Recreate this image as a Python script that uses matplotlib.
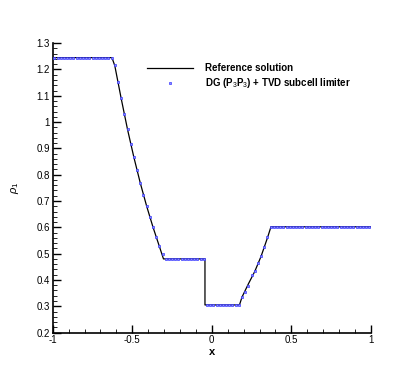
import matplotlib
matplotlib.use('Agg')
import matplotlib.pyplot as plt
from matplotlib.ticker import MultipleLocator, FormatStrFormatter
import numpy as np

plt.rcParams['font.family'] = ['Liberation Sans', 'DejaVu Sans']
plt.rcParams['mathtext.fontset'] = 'custom'
plt.rcParams['mathtext.rm'] = 'Liberation Sans'
plt.rcParams['mathtext.it'] = 'Liberation Sans:italic'
plt.rcParams['mathtext.bf'] = 'Liberation Sans:bold'

# reference solution (exact Riemann solution)
x_ref = [-1.0, -0.628, -0.61, -0.57, -0.53, -0.49, -0.45, -0.41, -0.37, -0.33, -0.304,
         -0.043, -0.043, 0.174, 0.19, 0.23, 0.27, 0.31, 0.35, 0.372, 1.0]
rho_ref = [1.245, 1.245, 1.214, 1.090, 0.972, 0.866, 0.769, 0.681, 0.601, 0.528, 0.480,
           0.480, 0.305, 0.305, 0.335, 0.385, 0.432, 0.490, 0.560, 0.602, 0.602]

# DG (P3P3) + TVD subcell limiter, cell averages on 100 cells
x_dg = np.arange(-0.99, 1.0, 0.02)
rho_dg = ([1.245] * 19
          + [1.216, 1.151, 1.090, 1.030, 0.972, 0.918, 0.866, 0.818,
             0.769, 0.723, 0.681, 0.640, 0.601, 0.563, 0.528, 0.499]
          + [0.479] * 13
          + [0.306] * 11
          + [0.336, 0.353, 0.378, 0.419, 0.434, 0.463, 0.492, 0.526, 0.562, 0.600]
          + [0.602] * 31)

fig = plt.figure(figsize=(4.19, 3.72), dpi=100)
ax = fig.add_axes([0.126, 0.106, 0.759, 0.778])

ax.plot(x_ref, rho_ref, color='black', lw=0.9, label='Reference solution', zorder=2)
ax.plot(x_dg, rho_dg, ls='none', marker='s', ms=2.0, mfc='#8c8cff', mec='#3a3aff', mew=0.5,
        label=r'DG (P$_3$P$_3$) + TVD subcell limiter', zorder=3)

ax.set_xlim(-1, 1)
ax.set_ylim(0.2, 1.3)
ax.xaxis.set_major_locator(MultipleLocator(0.5))
ax.xaxis.set_minor_locator(MultipleLocator(0.1))
ax.yaxis.set_major_locator(MultipleLocator(0.1))
ax.yaxis.set_minor_locator(MultipleLocator(0.02))
ax.xaxis.set_major_formatter(FormatStrFormatter('%g'))
ax.yaxis.set_major_formatter(FormatStrFormatter('%g'))

ax.spines['right'].set_color('none')
ax.spines['top'].set_color('none')
ax.spines['left'].set_linewidth(1.2)
ax.spines['bottom'].set_linewidth(1.2)
ax.tick_params(which='both', direction='in', labelsize=7, pad=2)
ax.tick_params(which='major', length=6, width=1.0)
ax.tick_params(which='minor', length=3, width=0.6)

ax.set_xlabel('x', fontsize=8, fontweight='bold', labelpad=1)
ax.set_ylabel(r'$\rho_1$', fontsize=8, labelpad=11)

leg = ax.legend(loc='upper left', bbox_to_anchor=(0.27, 0.96), frameon=False,
                handlelength=4.7, handletextpad=1.2, labelspacing=0.3,
                prop={'size': 7, 'weight': 'bold'})

fig.savefig('out.png', dpi=100)
